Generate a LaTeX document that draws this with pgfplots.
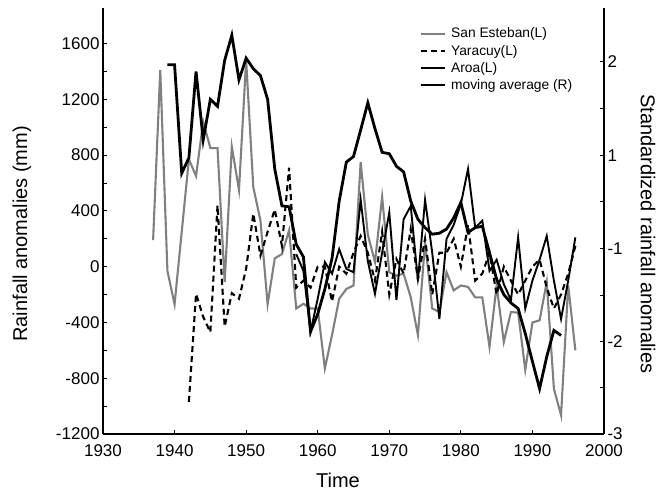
\documentclass[border=0pt]{standalone}
\usepackage{pgfplots}
\pgfplotsset{compat=1.18}
\usepackage{fontspec}
\setmainfont{Liberation Sans}
\definecolor{segray}{RGB}{128,128,128}
\begin{document}
\begin{tikzpicture}
\useasboundingbox (-103pt,-57pt) rectangle (557pt,434pt);
\begin{axis}[
  at={(0,0)}, anchor=south west,
  scale only axis, width=501pt, height=426pt,
  xmin=1930, xmax=2000, ymin=-1200, ymax=1855,
  axis x line*=bottom, axis y line*=left,
  xtick={1930,1940,...,2000},
  ytick={-1200,-800,...,1600},
  minor ytick={-1000,-600,...,1400},
  tick align=inside, major tick length=4pt, minor tick length=4pt,
  tick style={black, line width=1pt},
  axis line style={line width=1.5pt, -},
  /pgf/number format/assume math mode=true,
  /pgf/number format/1000 sep={},
  tick label style={font=\fontsize{17}{19}\selectfont},
  x tick label style={yshift=-7pt},
  label style={font=\fontsize{20}{22}\selectfont},
  xlabel={Time},
  ylabel={Rainfall anomalies (mm)},
  xlabel style={at={(axis description cs:0.469,0)}, anchor=center, yshift=-46pt},
  ylabel style={at={(axis description cs:-0.1617,0.47)}, anchor=center},
  legend cell align=left,
  legend style={draw=none, fill=none, at={(axis description cs:0.625,0.963)}, anchor=north west,
    font=\fontsize{13.8}{15}\selectfont, row sep=1.6pt,
    nodes={inner xsep=5pt}},
  legend image code/.code={\draw[#1] (0pt,0pt) -- (24pt,0pt);},
]
\addplot[segray, line width=2.1pt] coordinates {
(1937,190)(1938,1410)(1939,-30)(1940,-270)(1941,250)(1942,770)(1943,650)(1944,1040)
(1945,850)(1946,850)(1947,-110)(1948,860)(1949,550)(1950,1480)(1951,570)(1952,330)
(1953,-270)(1954,60)(1955,90)(1956,260)(1957,-300)(1958,-266)(1959,-300)(1960,-300)
(1961,-730)(1962,-490)(1963,-230)(1964,-160)(1965,-135)(1966,750)(1967,230)(1968,33)
(1969,500)(1970,-40)(1971,-65)(1972,-50)(1973,-220)(1974,-490)(1975,175)(1976,-300)
(1977,-325)(1978,-40)(1979,-170)(1980,-135)(1981,-145)(1982,-220)(1983,-220)(1984,-575)
(1985,-135)(1986,-540)(1987,-325)(1988,-330)(1989,-740)(1990,-400)(1991,-385)(1992,-110)
(1993,-875)(1994,-1065)(1995,-135)(1996,-600)
};
\addlegendentry{San Esteban(L)}
\addplot[black, line width=2.1pt, dash pattern=on 6pt off 4pt] coordinates {
(1942,-970)(1943,-195)(1944,-360)(1945,-470)(1946,440)(1947,-430)(1948,-190)(1949,-230)
(1950,-15)(1951,380)(1952,80)(1953,250)(1954,410)(1955,150)(1956,710)(1957,-150)
(1958,-100)(1959,-150)(1960,0)(1961,0)(1962,-250)(1963,0)(1964,-50)(1965,100)
(1966,220)(1967,100)(1968,-100)(1969,250)(1970,-200)(1971,55)(1972,-50)(1973,270)
(1974,-90)(1975,200)(1976,-200)(1977,100)(1978,100)(1979,200)(1980,0)(1981,300)
(1982,-100)(1983,-50)(1984,100)(1985,-200)(1986,0)(1987,-100)(1988,-200)(1989,-100)
(1990,0)(1991,50)(1992,-150)(1993,-300)(1994,-200)(1995,-50)(1996,150)
};
\addlegendentry{Yaracuy(L)}
\addplot[black, line width=1.9pt] coordinates {
(1957,90)(1958,-30)(1959,-466)(1960,-230)(1961,33)(1962,-50)(1963,126)(1964,-16)
(1965,-40)(1966,480)(1967,40)(1968,-195)(1969,100)(1970,390)(1971,-240)(1972,340)
(1973,435)(1974,-100)(1975,480)(1976,100)(1977,-375)(1978,200)(1979,300)(1980,450)
(1981,700)(1982,280)(1983,330)(1984,-30)(1985,50)(1986,-125)(1987,-240)(1988,210)
(1989,-300)(1990,-100)(1991,50)(1992,220)(1993,-100)(1994,-375)(1995,-100)(1996,210)
};
\addlegendentry{Aroa(L)}
\addplot[black, line width=2.8pt] coordinates {
(1939,1448)(1940,1448)(1941,670)(1942,780)(1943,1400)(1944,910)(1945,1200)(1946,1150)
(1947,1480)(1948,1660)(1949,1340)(1950,1495)(1951,1420)(1952,1370)(1953,1200)(1954,700)
(1955,436)(1956,430)(1957,160)(1958,70)(1959,-466)(1960,-340)(1961,-160)(1962,60)
(1963,470)(1964,750)(1965,790)(1966,980)(1967,1175)(1968,990)(1969,820)(1970,810)
(1971,720)(1972,680)(1973,470)(1974,340)(1975,280)(1976,233)(1977,240)(1978,270)
(1979,350)(1980,460)(1981,245)(1982,280)(1983,290)(1984,100)(1985,-90)(1986,-200)
(1987,-260)(1988,-300)(1989,-480)(1990,-680)(1991,-875)(1992,-645)(1993,-457)(1994,-493)
};
\addlegendentry{moving average (R)}
\end{axis}
\begin{axis}[
  at={(0,0)}, anchor=south west,
  scale only axis, width=501pt, height=426pt,
  xmin=1930, xmax=2000, ymin=-1200, ymax=1855,
  axis x line=none, axis y line*=right,
  ytick={-1200,-540,130,799,1469},
  yticklabels={-3,-2,-1,1,2},
  minor ytick={-866,-205,464,1134},
  tick align=inside, major tick length=4pt, minor tick length=4pt,
  tick style={black, line width=1pt},
  axis line style={line width=1.5pt, -},
  tick label style={font=\fontsize{17}{19}\selectfont},
  label style={font=\fontsize{20}{22}\selectfont},
  ylabel={Standardized rainfall anomalies},
  ylabel style={at={(axis description cs:1.088,0.47)}, anchor=center, rotate=180},
]
\end{axis}
\end{tikzpicture}
\end{document}
